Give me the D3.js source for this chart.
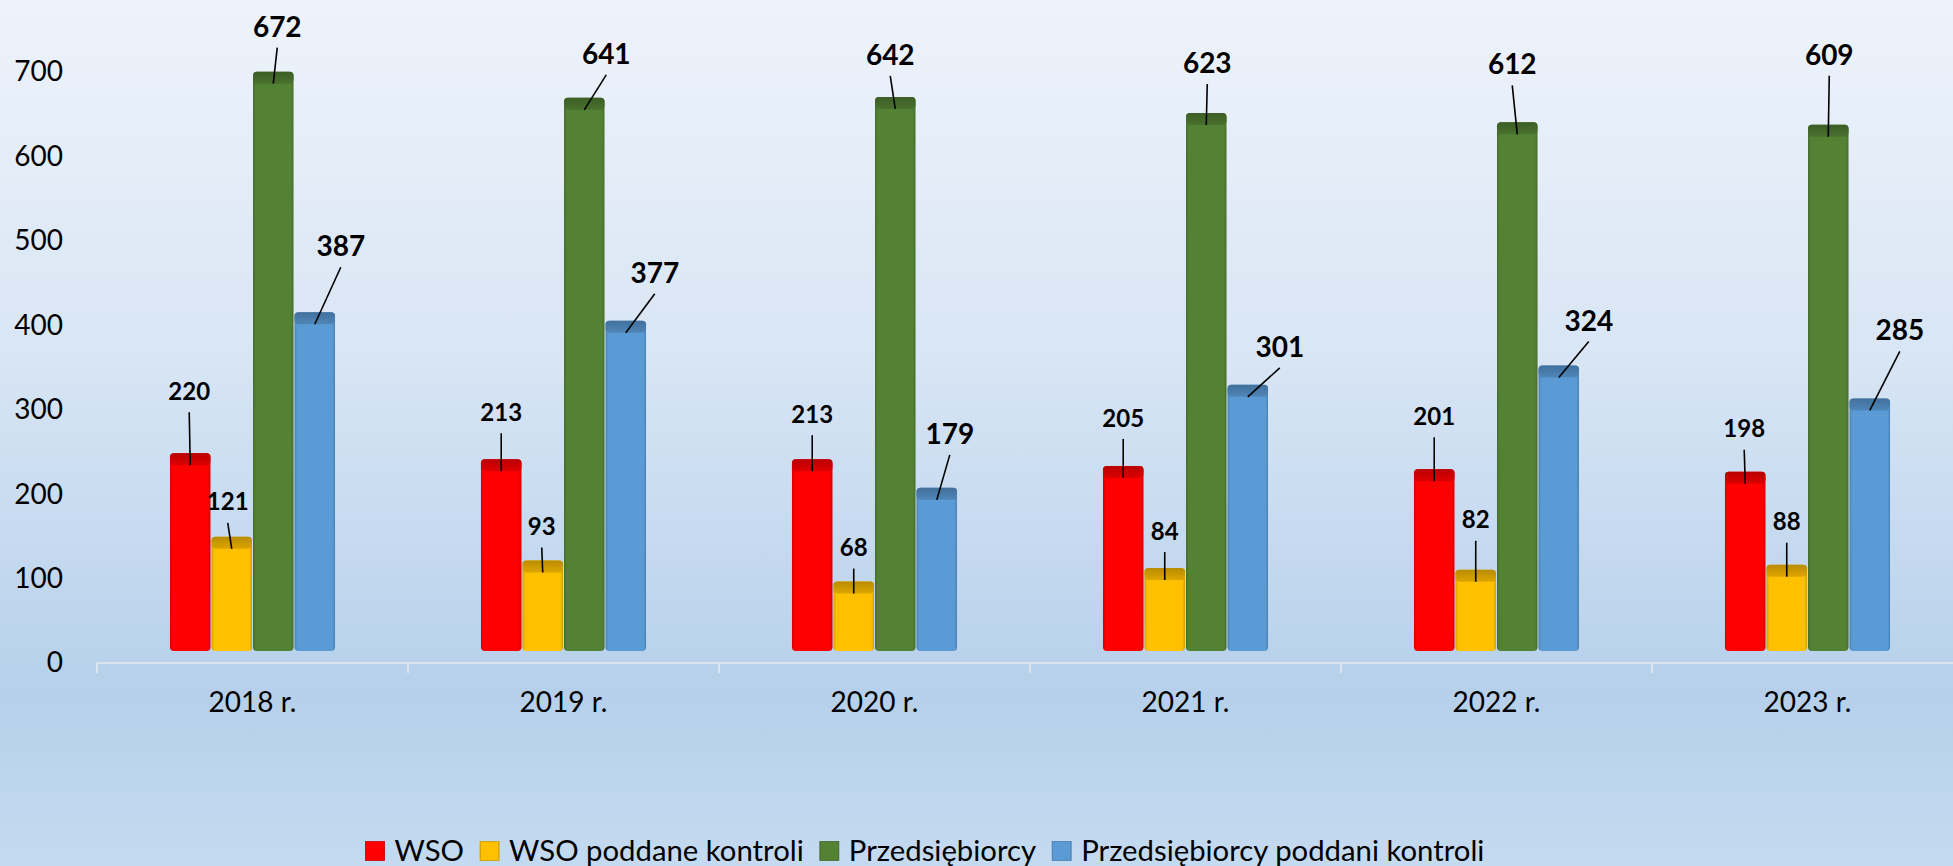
<!doctype html>
<html lang="pl">
  <head>
    <meta charset="UTF-8" />
    <title>WSO i przedsiębiorcy</title>
    <style>
      html, body { margin: 0; padding: 0; overflow: hidden; }
      svg { display: block; font-family: Lato, "Open Sans", sans-serif; }
    </style>
  </head>
  <body>
    <div id="target"></div>
    <script src="https://d3js.org/d3.v7.min.js"></script>
    <script>
      /* global d3 */

      const years = ["2018 r.", "2019 r.", "2020 r.", "2021 r.", "2022 r.", "2023 r."];
      const seriesNames = [
        "WSO",
        "WSO poddane kontroli",
        "Przedsiębiorcy",
        "Przedsiębiorcy poddani kontroli",
      ];
      const wso = [220, 213, 213, 205, 201, 198];
      const wsoKontrola = [121, 93, 68, 84, 82, 88];
      const przedsiebiorcy = [672, 641, 642, 623, 612, 609];
      const przedsiebiorcyKontrola = [387, 377, 179, 301, 324, 285];
      const yTicks = [0, 100, 200, 300, 400, 500, 600, 700];

      // where the data labels were dragged to (px, from top of bar)
      const labelShift = [
        [[-1, -74], [0, -59], [0, -57], [0, -60], [0, -65], [-1, -55]],
        [[-4, -47], [-1, -46], [0, -46], [0, -49], [0, -62], [0, -55]],
        [[4, -57], [22, -56], [-5, -54], [1, -62], [-5, -70], [1, -82]],
        [[26, -78], [29, -60], [13, -66], [32, -50], [30, -57], [30, -80]],
      ];

      const colors = ["#ff0000", "#ffc000", "#548235", "#5b9bd5"];
      const values = [wso, wsoKontrola, przedsiebiorcy, przedsiebiorcyKontrola];

      const width = 1953,
        height = 866,
        lift = 12, // 3d floor offset
        cap = 12;

      const svg = d3
        .select("#target")
        .append("svg")
        .attr("width", width)
        .attr("height", height)
        .attr("viewBox", [0, 0, width, height]);

      const defs = svg.append("defs");
      const bg = defs
        .append("linearGradient")
        .attr("id", "bg")
        .attr("x1", 0).attr("y1", 0).attr("x2", 0).attr("y2", 1);
      [
        [0, "#eef3fa"],
        [0.4, "#d9e6f5"],
        [0.8, "#b6d0eb"],
        [1, "#c4daf0"],
      ].forEach(([o, c]) => bg.append("stop").attr("offset", o).attr("stop-color", c));

      colors.forEach((c, i) => {
        const dark = d3.color(c).darker(0.5);
        const side = defs
          .append("linearGradient")
          .attr("id", "side" + i)
          .attr("x1", 0).attr("y1", 0).attr("x2", 1).attr("y2", 0);
        side.append("stop").attr("offset", 0).attr("stop-color", dark);
        side.append("stop").attr("offset", 0.07).attr("stop-color", c);
        side.append("stop").attr("offset", 0.93).attr("stop-color", c);
        side.append("stop").attr("offset", 1).attr("stop-color", dark);
        const top = defs
          .append("linearGradient")
          .attr("id", "cap" + i)
          .attr("x1", 0).attr("y1", 0).attr("x2", 0).attr("y2", 1);
        top.append("stop").attr("offset", 0).attr("stop-color", d3.color(c).darker(0.9));
        top.append("stop").attr("offset", 1).attr("stop-color", d3.color(c).darker(0.4));
      });

      svg.append("rect").attr("width", width).attr("height", height).attr("fill", "url(#bg)");

      const x = d3
        .scaleBand()
        .domain(years)
        .range([97, 1963])
        .paddingInner(0.466)
        .paddingOuter(0.233);
      const xs = d3.scaleBand().domain(d3.range(4)).range([0, x.bandwidth()]);
      const y = d3.scaleLinear().domain([0, 700]).range([663, 72]);

      // y axis
      svg
        .append("g")
        .attr("transform", "translate(63,0)")
        .call(d3.axisLeft(y).tickValues(yTicks).tickSize(0).tickPadding(0))
        .call((g) => g.select(".domain").remove())
        .selectAll("text")
        .attr("font-family", "Lato, sans-serif")
        .attr("font-size", 28)
        .attr("fill", "#000");

      // category axis
      const gx = svg
        .append("g")
        .attr("transform", `translate(0,${y(0)})`)
        .call(d3.axisBottom(x).tickSize(0).tickPadding(29))
        .call((g) => g.select(".domain").remove());
      gx.selectAll("text")
        .attr("font-family", "Lato, sans-serif")
        .attr("font-size", 28)
        .attr("fill", "#000");
      gx.append("line")
        .attr("x1", x.range()[0])
        .attr("x2", width)
        .attr("stroke", "#dde3ea")
        .attr("stroke-width", 2);
      const edges = [x.range()[0]].concat(
        years.slice(1).map((d) => x(d) - (x.step() * x.paddingInner()) / 2)
      );
      gx.selectAll("line.edge")
        .data(edges)
        .join("line")
        .attr("class", "edge")
        .attr("x1", (d) => d)
        .attr("x2", (d) => d)
        .attr("y2", 10)
        .attr("stroke", "#dde3ea")
        .attr("stroke-width", 2);

      // bars
      const rows = [];
      values.forEach((arr, s) =>
        arr.forEach((v, i) => rows.push({ s, i, v, year: years[i] }))
      );
      const bx = (d) => x(d.year) + xs(d.s);
      const cx = (d) => bx(d) + xs.bandwidth() / 2;
      const bodyTop = (d) => y(d.v) - lift;

      const bars = svg.append("g").selectAll("g").data(rows).join("g");
      bars
        .append("rect")
        .attr("x", (d) => bx(d) + 0.5)
        .attr("y", (d) => bodyTop(d) - cap)
        .attr("width", xs.bandwidth() - 1)
        .attr("height", (d) => y(0) - y(d.v) + cap)
        .attr("rx", 4)
        .attr("fill", (d) => `url(#side${d.s})`);
      bars
        .append("rect")
        .attr("x", (d) => bx(d) + 0.5)
        .attr("y", (d) => bodyTop(d) - cap)
        .attr("width", xs.bandwidth() - 1)
        .attr("height", cap)
        .attr("rx", 4)
        .attr("fill", (d) => `url(#cap${d.s})`);

      // data labels with leader lines
      const lx = (d) => cx(d) + labelShift[d.s][d.i][0];
      const ly = (d) => bodyTop(d) + labelShift[d.s][d.i][1];
      const labels = svg.append("g").selectAll("g").data(rows).join("g");
      labels
        .append("line")
        .attr("x1", lx)
        .attr("y1", (d) => ly(d) + 21)
        .attr("x2", cx)
        .attr("y2", bodyTop)
        .attr("stroke", "#000")
        .attr("stroke-width", 1.6);
      labels
        .append("text")
        .attr("x", lx)
        .attr("y", ly)
        .attr("dy", "0.36em")
        .attr("text-anchor", "middle")
        .attr("font-weight", "bold")
        .attr("font-size", (d) => (d.s < 2 ? 24 : 28))
        .attr("fill", "#000")
        .text((d) => d.v);

      // legend, sized to span the same width as the original
      const legendWidth = 1119,
        legendCenter = 925,
        markerGap = 29,
        itemGap = 16;
      const legend = svg.append("g").attr("transform", "translate(0,851)");
      const items = legend.selectAll("g").data(seriesNames).join("g");
      items
        .append("rect")
        .attr("y", -9.5)
        .attr("width", 19)
        .attr("height", 19)
        .attr("fill", (d, i) => `url(#side${i})`)
        .attr("stroke", (d, i) => d3.color(colors[i]).darker(0.6))
        .attr("stroke-width", 0.8);
      const ltext = items
        .append("text")
        .attr("x", markerGap)
        .attr("dy", "0.35em")
        .attr("font-size", 20)
        .attr("fill", "#000")
        .text((d) => d);
      const lens = ltext.nodes().map((n) => n.getComputedTextLength());
      const fixed = seriesNames.length * markerGap + (seriesNames.length - 1) * itemGap;
      const fs = (20 * (legendWidth - fixed)) / d3.sum(lens);
      ltext.attr("font-size", fs);
      let pos = legendCenter - legendWidth / 2;
      items.attr("transform", (d, i) => {
        const t = `translate(${pos},0)`;
        pos += markerGap + (lens[i] * fs) / 20 + itemGap;
        return t;
      });
    </script>
  </body>
</html>
